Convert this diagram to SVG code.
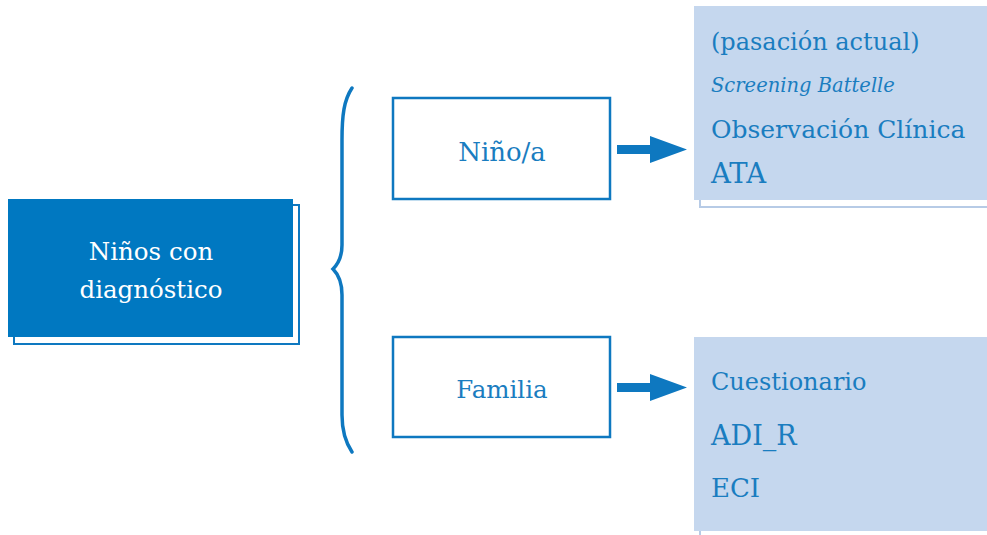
<svg xmlns="http://www.w3.org/2000/svg" width="987" height="535" viewBox="0 0 987 535">
  <style>
    text { font-family: "DejaVu Serif", "Liberation Serif", serif; }
    .dark { fill: #0078c1; }
    .outline { fill: #ffffff; stroke: #0e78c0; stroke-width: 2.5; }
    .shadow { fill: #ffffff; stroke: #0e78c0; stroke-width: 2; }
    .panel { fill: #c5d7ee; }
    .panelShadow { fill: none; stroke: #b7cbe6; stroke-width: 2; }
    .label { fill: #1a7dc0; }
    .white { fill: #ffffff; text-anchor: middle; }
    .mid { text-anchor: middle; }
    .arrow { fill: #0e78c0; }
  </style>

  <!-- root node -->
  <g id="root">
    <rect class="shadow" x="14" y="205" width="285" height="139"/>
    <rect class="dark" x="8" y="199" width="285" height="138"/>
    <text class="white" x="151" y="260" font-size="24.5">Niños con</text>
    <text class="white" x="151" y="298" font-size="24.5">diagnóstico</text>
  </g>

  <!-- branch nodes -->
  <g id="nino">
    <rect class="outline" x="393" y="98" width="217" height="101"/>
    <text class="label mid" x="502" y="161" font-size="26">Niño/a</text>
  </g>
  <g id="familia">
    <rect class="outline" x="393" y="337" width="217" height="100"/>
    <text class="label mid" x="502" y="398" font-size="24.5">Familia</text>
  </g>

  <!-- instrument panels -->
  <g id="instrumentos-nino">
    <path class="panelShadow" d="M700 200 V207 H987"/>
    <rect class="panel" x="694" y="6" width="293" height="194"/>
    <text class="label" x="711" y="50" font-size="24">(pasación actual)</text>
    <text class="label" x="711" y="92" font-size="19.5" font-style="italic">Screening Battelle</text>
    <text class="label" x="711" y="138" font-size="25">Observación Clínica</text>
    <text class="label" x="711" y="183" font-size="27.5">ATA</text>
  </g>
  <g id="instrumentos-familia">
    <path class="panelShadow" d="M700 531 V535"/>
    <rect class="panel" x="694" y="337" width="293" height="194"/>
    <text class="label" x="711" y="390" font-size="24">Cuestionario</text>
    <text class="label" x="711" y="445" font-size="27">ADI_R</text>
    <text class="label" x="711" y="497" font-size="26">ECI</text>
  </g>

  <!-- connectors -->
  <g id="connectors">
    <path id="brace" fill="none" stroke="#0e78c0" stroke-width="3.5" stroke-linecap="round"
          d="M352 88 C344 100 342 115 342 140 L342 245 C342 258 338 264 333 269 C338 274 342 282 342 295 L342 415 C342 432 346 443 352 452"/>
    <path class="arrow" d="M617 145 H650 V136 L687 149.5 L650 163 V154 H617 Z"/>
    <path class="arrow" d="M617 383 H650 V374 L687 387.5 L650 401 V392 H617 Z"/>
  </g>
</svg>
